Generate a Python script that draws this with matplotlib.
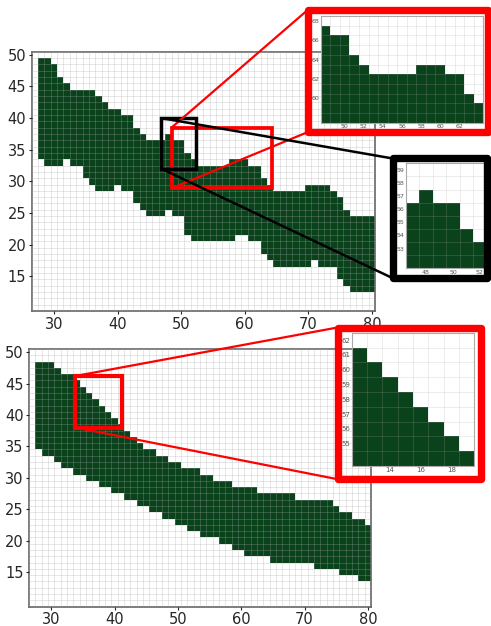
import numpy as np
import matplotlib
matplotlib.use("Agg")
import matplotlib.pyplot as plt
from matplotlib.colors import ListedColormap
from matplotlib.patches import Rectangle, ConnectionPatch

W, H = 491, 626
GREEN = "#0a421b"

cols = np.arange(28, 81)
rows = np.arange(11, 51)

# occupied band per column: lowest and highest filled cell
top_lo = [34, 33, 33, 33, 34, 33, 33, 31, 30, 29,
          29, 29, 30, 29, 29, 27, 26, 25, 25, 25,
          26, 25, 25, 22, 21, 21, 21, 21, 21, 21,
          21, 22, 22, 21, 21, 19, 18, 17, 17, 17,
          17, 17, 17, 18, 17, 17, 17, 15, 14, 13,
          13, 13, 13]
top_hi = [49, 49, 48, 46, 45, 44, 44, 44, 44, 43,
          42, 41, 41, 40, 40, 38, 37, 36, 36, 36,
          37, 36, 36, 34, 33, 32, 32, 32, 32, 32,
          33, 33, 33, 32, 32, 30, 29, 28, 28, 28,
          28, 28, 29, 29, 29, 29, 28, 27, 25, 24,
          24, 24, 24]

bot_lo = [35, 34, 34, 33, 32, 32, 31, 31, 30, 30,
          29, 29, 28, 28, 27, 27, 26, 26, 25, 25,
          24, 24, 23, 23, 22, 22, 21, 21, 21, 20,
          20, 19, 19, 18, 18, 18, 18, 17, 17, 17,
          17, 17, 17, 17, 16, 16, 16, 16, 15, 15,
          15, 14, 14]
bot_hi = [48, 48, 48, 47, 46, 46, 45, 44, 43, 42,
          41, 40, 39, 38, 37, 36, 35, 34, 34, 33,
          33, 32, 32, 31, 31, 31, 30, 30, 29, 29,
          29, 28, 28, 28, 28, 27, 27, 27, 27, 27,
          27, 26, 26, 26, 26, 26, 26, 25, 24, 24,
          23, 23, 22]


def px(x0, y0, x1, y1):
    # pixel box (left, top, right, bottom) -> figure rect
    return [x0 / W, 1 - y1 / H, (x1 - x0) / W, (y1 - y0) / H]


def band(ax, lo, hi, dx=0, dy=0):
    lo = np.array(lo)[None, :]
    hi = np.array(hi)[None, :]
    r = rows[:, None]
    Z = ((r >= lo) & (r <= hi)).astype(float)
    Z = np.ma.masked_where(Z == 0, Z)
    xe = np.append(cols - 0.5, cols[-1] + 0.5) + dx
    ye = np.append(rows - 0.5, rows[-1] + 0.5) + dy
    ax.pcolormesh(xe, ye, Z, cmap=ListedColormap([GREEN]), vmin=0, vmax=1)


def style(ax, xlim, ylim, xt, yt, fs, lab_col, spine_col, spine_w, grid_a, small=False):
    ax.set_xlim(*xlim)
    ax.set_ylim(*ylim)
    ax.set_xticks(xt)
    ax.set_yticks(yt)
    ax.set_xticks(np.arange(np.floor(xlim[0]) - 0.5, xlim[1] + 1), minor=True)
    ax.set_yticks(np.arange(np.floor(ylim[0]) - 0.5, ylim[1] + 1), minor=True)
    ax.grid(which="minor", color="#a8a8a8", alpha=grid_a, lw=0.6)
    ax.set_axisbelow(False)
    ax.tick_params(which="minor", length=0)
    if small:
        ax.tick_params(which="major", labelsize=fs, colors=lab_col, length=0, pad=1)
    else:
        ax.tick_params(which="major", labelsize=fs, colors=lab_col, length=2.5, pad=1.5,
                       width=0.8)
    for s in ax.spines.values():
        s.set_color(spine_col)
        s.set_linewidth(spine_w)


fig = plt.figure(figsize=(W / 100, H / 100), dpi=100)

main_xt = [30, 40, 50, 60, 70, 80]
main_yt = [15, 20, 25, 30, 35, 40, 45, 50]

ax1 = fig.add_axes(px(31.7, 51.7, 375, 311))
band(ax1, top_lo, top_hi)
style(ax1, (27.5, 80.5), (10.5, 50.5), main_xt, main_yt, 10.5, "#262626", "#666666", 1.2, 0.32)

ax2 = fig.add_axes(px(29, 349, 371, 606.5))
band(ax2, bot_lo, bot_hi)
style(ax2, (27.5, 80.5), (10.5, 50.5), main_xt, main_yt, 10.5, "#262626", "#666666", 1.2, 0.32)

# zoom panels
in1 = fig.add_axes(px(320.7, 16, 483.3, 122.7))
band(in1, top_lo, top_hi, dy=30)
style(in1, (48.6, 64.0), (58.3, 68.1), range(50, 63, 2), range(60, 69, 2), 4.5, "#555555",
      "#aaaaaa", 0.8, 0.25, small=True)

in2 = fig.add_axes(px(405.7, 163.3, 486.7, 268.3))
band(in2, top_lo, top_hi, dy=20)
style(in2, (47.05, 52.15), (52.5, 59.3), [48, 50, 52], range(53, 60), 4.5, "#555555",
      "#aaaaaa", 0.8, 0.25, small=True)

in3 = fig.add_axes(px(351.7, 332.7, 474.3, 466))
band(in3, bot_lo, bot_hi, dx=-22, dy=16)
style(in3, (12.0, 18.9), (54.65, 62.2), [14, 16, 18], range(55, 63), 5, "#555555",
      "#aaaaaa", 0.8, 0.25, small=True)


def frame(x0, y0, x1, y1, color):
    fig.add_artist(Rectangle((x0 / W, 1 - y1 / H), (x1 - x0) / W, (y1 - y0) / H,
                             transform=fig.transFigure, fill=False, ec=color, lw=5.3,
                             joinstyle="round", zorder=6))
    return (x0 / W, 1 - y0 / H), (x0 / W, 1 - y1 / H)


def box(ax, x0, y0, x1, y1, color, lw):
    ax.add_patch(Rectangle((x0, y0), x1 - x0, y1 - y0, fill=False, ec=color, lw=lw,
                           clip_on=False, zorder=5))


def link(ax, xy, fxy, color, lw):
    fig.add_artist(ConnectionPatch(xyA=xy, coordsA="data", axesA=ax, xyB=fxy,
                                   coordsB="figure fraction", color=color, lw=lw, zorder=4))


# top panel: red zoom
box(ax1, 48.5, 28.9, 64.3, 38.5, "red", 2.7)
tl, bl = frame(308, 9.7, 487.5, 132, "red")
link(ax1, (48.5, 38.5), tl, "red", 1.6)
link(ax1, (48.5, 28.9), bl, "red", 1.6)

# top panel: black zoom
box(ax1, 46.9, 32.0, 52.4, 40.0, "black", 2.5)
tl, bl = frame(392.8, 158.5, 487.2, 278.2, "black")
link(ax1, (46.9, 40.0), tl, "black", 1.8)
link(ax1, (46.9, 32.0), bl, "black", 1.8)

# bottom panel: red zoom
box(ax2, 33.8, 38.0, 41.2, 46.2, "red", 3.0)
tl, bl = frame(337.5, 327.5, 480.5, 479.2, "red")
link(ax2, (33.8, 46.2), tl, "red", 1.6)
link(ax2, (33.8, 38.0), bl, "red", 1.6)

fig.savefig("out.png", dpi=100)
